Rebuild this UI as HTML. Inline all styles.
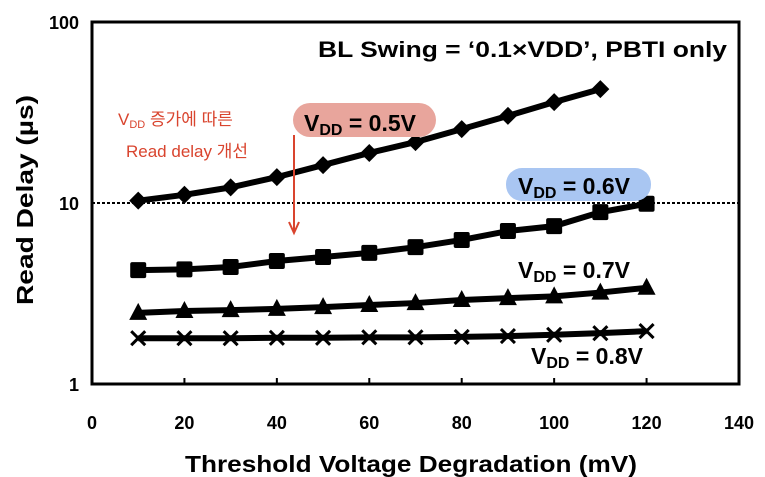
<!DOCTYPE html>
<html><head><meta charset="utf-8"><style>
body{margin:0;background:#fff;}
svg{display:block;font-family:"Liberation Sans","Noto Sans CJK KR",sans-serif;}
</style></head><body>
<svg id="chart" width="765" height="477" viewBox="0 0 765 477" xmlns="http://www.w3.org/2000/svg">
<rect x="92" y="22" width="647" height="362" fill="none" stroke="#000" stroke-width="3"/>
<line x1="92" y1="203" x2="739" y2="203" stroke="#000" stroke-width="2" stroke-dasharray="3,2"/>
<g id="marks"></g>
<g id="axes" font-weight="bold" font-size="18"></g>
<text x="185" y="472" textLength="452" lengthAdjust="spacingAndGlyphs" font-size="23" font-weight="bold">Threshold Voltage Degradation (mV)</text>
<text transform="translate(33,200) rotate(-90)" text-anchor="middle" textLength="210" lengthAdjust="spacingAndGlyphs" font-size="23" font-weight="bold">Read Delay (µs)</text>
<text x="318" y="57" textLength="409" lengthAdjust="spacingAndGlyphs" font-size="22" font-weight="bold">BL Swing = ‘0.1×VDD’, PBTI only</text>
<rect x="293" y="103" width="143" height="34" rx="17" fill="#e8a59c"/>
<text x="304" y="131" font-size="23" font-weight="bold">V<tspan font-size="16" dy="4">DD</tspan><tspan dy="-4"> = 0.5V</tspan></text>
<rect x="506" y="168" width="145" height="33" rx="16" fill="#a9c6f2"/>
<text x="518" y="194" font-size="23" font-weight="bold">V<tspan font-size="16" dy="4">DD</tspan><tspan dy="-4"> = 0.6V</tspan></text>
<text x="518" y="278" font-size="23" font-weight="bold">V<tspan font-size="16" dy="4">DD</tspan><tspan dy="-4"> = 0.7V</tspan></text>
<text x="531" y="364" font-size="23" font-weight="bold">V<tspan font-size="16" dy="4">DD</tspan><tspan dy="-4"> = 0.8V</tspan></text>
<g fill="#d9442e" font-size="17">
<text x="118" y="125">V<tspan font-size="11" dy="3">DD</tspan><tspan dy="-3"> 증가에   따른</tspan></text>
<text x="126" y="157">Read delay   개선</text>
</g>
<line x1="294" y1="135" x2="294" y2="232" stroke="#d9442e" stroke-width="2"/>
<path d="M289 222 L294 233 L299 222" fill="none" stroke="#d9442e" stroke-width="2"/>
</svg>
<script>
const xValues=[10,20,30,40,50,60,70,80,90,100,110,120];
const vdd05=[10.3,11.1,12.2,13.9,16.2,18.9,21.7,25.6,30.3,36.1,42.6];
const vdd06=[4.26,4.3,4.43,4.78,5.03,5.3,5.7,6.25,7.0,7.45,8.9,9.9];
const vdd07=[2.47,2.53,2.56,2.6,2.66,2.73,2.8,2.91,2.98,3.05,3.2,3.4];
const vdd08=[1.79,1.79,1.79,1.8,1.8,1.81,1.81,1.82,1.84,1.87,1.91,1.96];
const xTicks=[0,20,40,60,80,100,120,140];
const yTicks=[1,10,100];
const NS="http://www.w3.org/2000/svg";
function xs(v){return 92+v*647/140;}
function ys(v){return 384-Math.log10(v)*181;}
const marks=document.getElementById('marks'),axes=document.getElementById('axes');
function mk(t,a){const e=document.createElementNS(NS,t);for(const k in a)e.setAttribute(k,a[k]);return e;}
xTicks.forEach(t=>{
 const tx=mk('text',{x:xs(t),y:429,'text-anchor':'middle'});tx.textContent=t;
 
 
 axes.appendChild(tx);
 if(t>0&&t<140){const l=mk('line',{x1:xs(t),y1:384,x2:xs(t),y2:378,stroke:'#000','stroke-width':2});axes.appendChild(l);}
});
yTicks.forEach(t=>{
 const tx=mk('text',{x:79,y:ys(t)+7,'text-anchor':'end'});tx.textContent=t;
 
 
 axes.appendChild(tx);
});
function series(vals,shape,name){
 const pts=vals.map((v,i)=>xs(xValues[i])+','+ys(v)).join(' ');
 const pl=mk('polyline',{points:pts,fill:'none',stroke:'#000','stroke-width':6});
 
 
 marks.appendChild(pl);
 vals.forEach((v,i)=>{
  const x=xs(xValues[i]),y=ys(v);let e;
  if(shape==='diamond')e=mk('polygon',{points:`${x},${y-9} ${x+9},${y} ${x},${y+9} ${x-9},${y}`});
  else if(shape==='square')e=mk('rect',{x:x-8,y:y-8,width:16,height:16,rx:2});
  else if(shape==='triangle')e=mk('polygon',{points:`${x},${y-10} ${x+9},${y+7} ${x-9},${y+7}`});
  else e=mk('path',{d:`M${x-7} ${y-7}L${x+7} ${y+7}M${x+7} ${y-7}L${x-7} ${y+7}`,stroke:'#000','stroke-width':3});
  
  
  marks.appendChild(e);
 });
}
series(vdd05,'diamond','vdd-05');
series(vdd06,'square','vdd-06');
series(vdd07,'triangle','vdd-07');
series(vdd08,'x','vdd-08');
</script>
</body></html>
